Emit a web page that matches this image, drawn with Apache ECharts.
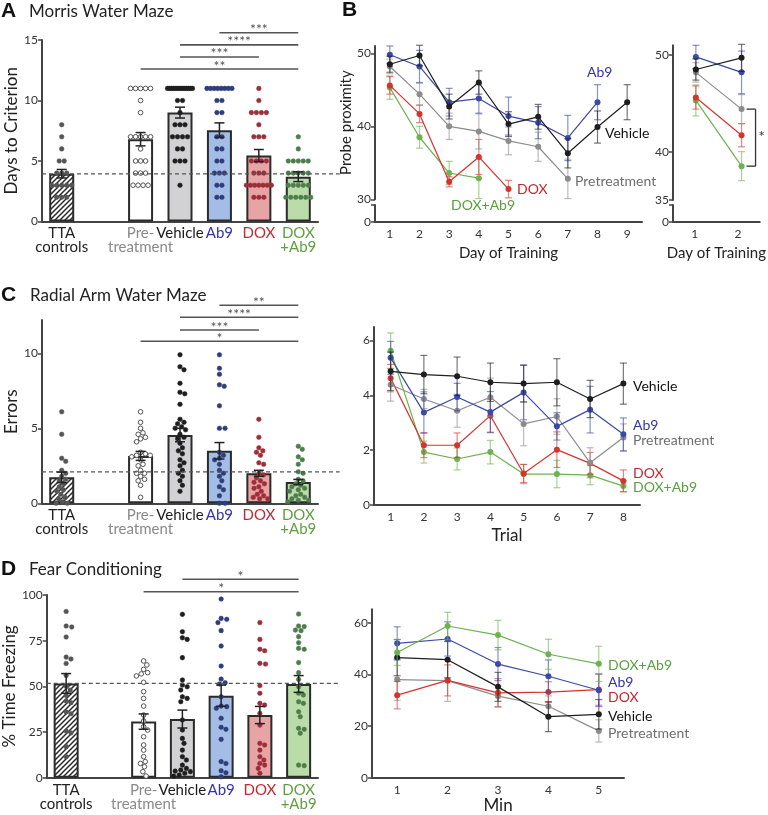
<!DOCTYPE html>
<html><head><meta charset="utf-8">
<script src="https://cdn.jsdelivr.net/npm/echarts@6/dist/echarts.min.js"></script>
<style>html,body{margin:0;padding:0;background:#fff}#c{width:768px;height:815px}</style>
</head><body><div id="c"></div>
<script>
// ---------------- DATA ----------------
const xCats = ['TTA\ncontrols', ' ', 'Pre-\ntreatment', 'Vehicle', 'Ab9', 'DOX', 'DOX\n+Ab9'];
const groupNames = ['TTA\ncontrols', 'Pre-\ntreatment', 'Vehicle', 'Ab9', 'DOX', 'DOX\n+Ab9'];

// A: Morris water maze, days to criterion
const mwmTTA = [8,7,6,5,5,4,4,4,3,3,3,3,3,2,2,2];
const mwmPre = [11,11,11,11,11,10,9,7,7,7,7,7,6,5,5,5,4,4,4,3,3,3,3];
const mwmVeh = [11,11,11,11,11,11,11,11,11,11,11,11,11,11,10,10,9,8,8,8,7,7,7,7,6,6,5,5,5,3];
const mwmAb9 = [11,11,11,11,11,11,11,11,10,10,9,9,7,7,6,6,5,5,4,4,4,3,3,2,2];
const mwmDox = [11,10,9,9,9,9,8,7,7,7,5,5,5,5,4,4,4,3,3,3,3,3,3,3,2,2,2];
const mwmDoxAb9 = [7,6,5,5,5,5,5,4,4,4,4,4,3,3,3,3,3,2,2,2,2,2,2];
const mwmMean = [3.95, 6.8, 9.0, 7.55, 5.45, 3.7];
const mwmSem = [0.35, 0.55, 0.45, 0.6, 0.5, 0.4];
const mwmRef = 3.93;
const mwmSigFrom = ['Ab9', 'Vehicle', 'Vehicle', 'Pre-\ntreatment'];
const mwmSigTo = ['DOX\n+Ab9', 'DOX\n+Ab9', 'DOX', 'DOX\n+Ab9'];
const mwmSigY = [15.6, 14.6, 13.6, 12.6];
const mwmSigStars = ['***', '****', '***', '**'];

// C: radial arm water maze, errors
const rawmTTA = [6.1,4.6,3.0,2.8,2.2,2.0,1.8,1.6,1.5,1.3,1.1,0.9,0.8,0.6,0.4,0.3,0.1,0,0];
const rawmPre = [6.1,5.4,5.0,4.7,4.6,4.4,4.3,4.1,3.4,3.3,3.2,3.2,3.1,2.9,2.6,2.5,2.2,2.0,2.0,1.8,1.6,1.5,1.2,0.4];
const rawmVeh = [9.9,9.1,8.9,8.0,7.4,7.3,6.6,5.6,5.4,5.3,5.1,5.0,4.9,4.6,4.4,4.3,4.0,3.7,3.5,3.3,2.9,2.7,2.5,2.2,2.0,1.8,1.5,1.2,0.8];
const rawmAb9 = [9.9,9.0,8.6,7.9,7.8,6.5,5.0,5.0,3.4,3.2,3.0,2.9,2.6,2.2,2.0,1.8,1.5,1.1,0.9,0.5,0,0];
const rawmDox = [5.6,4.4,3.7,3.5,3.4,3.2,2.7,2.6,2.0,1.9,1.7,1.5,1.4,1.3,1.1,1.0,0.8,0.6,0.5,0.4,0.3,0.3];
const rawmDoxAb9 = [3.8,3.6,3.1,2.9,2.6,2.1,2.0,1.6,1.5,1.3,1.2,1.1,1.0,0.9,0.8,0.6,0.5,0.4,0.3,0.2,0.2,0.1];
const rawmMean = [1.73, 3.16, 4.55, 3.5, 2.0, 1.42];
const rawmSem = [0.35, 0.3, 0.45, 0.55, 0.2, 0.17];
const rawmRef = 2.1;
const rawmSigFrom = ['Ab9', 'Vehicle', 'Vehicle', 'Pre-\ntreatment'];
const rawmSigTo = ['DOX\n+Ab9', 'DOX\n+Ab9', 'DOX', 'DOX\n+Ab9'];
const rawmSigY = [13.2, 12.4, 11.55, 10.8];
const rawmSigStars = ['**', '****', '***', '*'];

// D: fear conditioning, % time freezing
const fcTTA = [91,83,82.5,77,66,65,62.5,56,50,48,45,42,41,36,35,25.5,24.5,17,11.5];
const fcPre = [63.9,61.7,59.3,57.5,56.8,55.7,52.2,47.1,43.4,39.2,34.3,31,27.9,26.1,22.4,17.9,15.1,11.5,8.8,7.8,6,3.3,0.9];
const fcVeh = [89.4,79.9,76.6,75.7,65.7,53.5,50.7,49.8,48,44.3,43.4,41.6,31.6,26.1,21.5,18.8,15.1,11.5,9.7,6.9,5.1,4.2,3.6,3.3,2.4,1.5,0.9];
const fcAb9 = [97.8,87.2,86.7,84.9,80.5,72.1,61.1,54,52,51.3,44.3,39.2,38.9,38,32.5,27.6,26.5,21,8.8,7.8,3.8,2.7,0.5];
const fcDox = [84.9,75.7,70.3,69.5,62.6,62.2,50.4,46.2,40.7,39.8,35.2,28.8,18.8,17.9,15.1,11.5,9.7,7.8,6.9,5.1,2.4];
const fcDoxAb9 = [89.6,83,82.7,80.8,80.5,77.2,73.9,70.8,70.3,63,57.5,53.8,49.8,46.2,45.3,41.6,40.7,36.1,33.4,27,26.5,24.3,6.9,6.6];
const fcMean = [51.6, 30.7, 32.1, 44.9, 34.3, 51.3];
const fcSem = [5.4, 4.2, 4.9, 5.8, 4.7, 4.6];
const fcRef = 51.6;
const fcSigFrom = ['Vehicle', 'Pre-\ntreatment'];
const fcSigTo = ['DOX\n+Ab9', 'DOX\n+Ab9'];
const fcSigY = [108.6, 101.8];
const fcSigStars = ['*', '*'];

// B: probe proximity by day of training
const dayCats = ['1','2','3','4','5','6','7','8','9'];
const probeVeh = [48.5, 49.7, 42.7, 46.0, 40.3, 41.3, 36.3, 39.9, 43.3];
const probeVehErr = [1.1, 1.4, 1.7, 1.6, 1.7, 1.7, 2.0, 2.2, 2.4];
const probeAb9 = [49.8, 48.2, 43.3, 43.8, 41.4, 40.5, 38.4, 43.3];
const probeAb9Err = [1.2, 2.2, 1.9, 2.0, 2.6, 2.2, 3.1, 2.4];
const probePre = [48.2, 44.4, 40.0, 39.3, 38.0, 37.2, 32.8];
const probePreErr = [1.0, 1.5, 1.8, 2.4, 1.9, 2.0, 2.7];
const probeDox = [45.6, 41.7, 32.4, 35.8, 31.4];
const probeDoxErr = [1.2, 1.2, 0.7, 2.4, 1.2];
const probeDoxAb9 = [45.3, 38.5, 33.6, 32.9];
const probeDoxAb9Err = [1.6, 1.5, 1.6, 2.8];
const dayCats2 = ['1','2'];

// C right: errors by trial
const trialCats = ['1','2','3','4','5','6','7','8'];
const trialVeh = [4.88, 4.76, 4.7, 4.48, 4.43, 4.48, 3.87, 4.43];
const trialVehErr = [0.7, 0.7, 0.7, 0.7, 0.67, 0.86, 0.68, 0.75];
const trialAb9 = [5.37, 3.38, 3.94, 3.39, 4.11, 2.87, 3.48, 2.58];
const trialAb9Err = [0.6, 0.75, 0.5, 0.75, 1.0, 0.5, 0.85, 0.6];
const trialPre = [4.39, 3.87, 3.44, 3.93, 2.96, 3.23, 1.54, 2.46];
const trialPreErr = [0.6, 0.35, 0.6, 0.7, 0.8, 0.65, 0.55, 0.5];
const trialDox = [4.63, 2.18, 2.18, 3.26, 1.15, 2.02, 1.52, 0.88];
const trialDoxErr = [0.5, 0.45, 0.45, 0.6, 0.33, 0.65, 0.4, 0.4];
const trialDoxAb9 = [5.63, 1.93, 1.68, 1.93, 1.13, 1.13, 1.09, 0.69];
const trialDoxAb9Err = [0.65, 0.4, 0.4, 0.43, 0.35, 0.5, 0.35, 0.2];

// D right: freezing by minute
const minCats = ['1','2','3','4','5'];
const minDoxAb9 = [48.5, 58.7, 55.2, 47.8, 44.1];
const minDoxAb9Err = [5, 5.3, 5.7, 5.8, 6.8];
const minAb9 = [52, 53.7, 44, 39.3, 33.9];
const minAb9Err = [6.4, 6.6, 6.4, 6.3, 6.3];
const minVeh = [46.5, 45.7, 35.2, 23.7, 24.6];
const minVehErr = [7, 7, 5.6, 5.8, 5.7];
const minDox = [32, 37.7, 32.9, 33.2, 34.1];
const minDoxErr = [5.3, 6, 5.5, 4, 6];
const minPre = [38, 37.6, 31.6, 27.7, 18.2];
const minPreErr = [8, 8, 4, 4, 4.3];

// ---------------- STYLE ----------------
const FONT = 'Lato';
const cVeh = '#1e1e1e', cAb9 = '#3b4aa6', cPre = '#8c8c8c', cDox = '#d6332f', cDoxAb9 = '#6cb24e';
const tVeh = '#111', tAb9 = '#3333a8', tPre = '#6e6e6e', tDox = '#c4262e', tDoxAb9 = '#5aa040';
const labelColors = {'TTA\ncontrols':'#222', ' ':'#222', 'Pre-\ntreatment':'#8a8a8a', 'Vehicle':'#1a1a1a', 'Ab9':'#3434a6', 'DOX':'#c02a32', 'DOX\n+Ab9':'#5f9f3f'};

const pc = document.createElement('canvas'); pc.width = 5; pc.height = 5;
(function(){ const g = pc.getContext('2d'); g.fillStyle = '#fff'; g.fillRect(0,0,5,5);
  g.strokeStyle = '#2a2a2a'; g.lineWidth = 1.5; g.beginPath();
  g.moveTo(-1,6); g.lineTo(6,-1); g.moveTo(-1,1); g.lineTo(1,-1); g.moveTo(4,6); g.lineTo(6,4); g.stroke(); })();
const hatch = {image: pc, repeat: 'repeat'};
const barFills = [hatch, '#ffffff', '#d2d2d4', '#a3bde6', '#e8a3a5', '#badca8'];
const dotFill = ['#555555', '#ffffff', '#1e1e1e', '#2f3d7a', '#9c2e3a', '#4e7d4c'];
const dotStroke = ['#555555', '#555555', '#1e1e1e', '#2f3d7a', '#9c2e3a', '#4e7d4c'];

// ---------------- HELPERS ----------------
function rowLayout(ys) {
  const offs = new Array(ys.length).fill(0);
  const rows = {};
  ys.forEach((y, i) => { const k = Math.round(y * 2) / 2; (rows[k] = rows[k] || []).push(i); });
  Object.values(rows).forEach(idx => {
    const n = idx.length; const s = n > 1 ? Math.min(5, 25 / (n - 1)) : 0;
    idx.forEach((ii, j) => { offs[ii] = (j - (n - 1) / 2) * s; });
  });
  return offs;
}
function swarmLayout(ys) {
  const order = ys.map((y, i) => i).sort((a, b) => ys[a] - ys[b]);
  const placed = []; const offs = new Array(ys.length).fill(0); const md = 5.0;
  order.forEach(i => {
    let best = 0;
    for (let t = 0; t < 60; t++) {
      const x = t === 0 ? 0 : (t % 2 ? 1 : -1) * Math.ceil(t / 2) * 0.8;
      if (Math.abs(x) > 14) break;
      if (!placed.some(p => (p.x - x) ** 2 + (p.y - ys[i]) ** 2 < md * md)) { best = x; break; }
      best = x;
    }
    offs[i] = best; placed.push({x: best, y: ys[i]});
  });
  return offs;
}

function barPanel(ai, means, sems, dotSets, ref, sigFrom, sigTo, sigY, sigStars, mode) {
  const s = [];
  s.push({type: 'bar', xAxisIndex: ai, yAxisIndex: ai, barWidth: 25, z: 2, silent: true,
    data: groupNames.map((g, i) => ({value: [g, means[i]], itemStyle: {color: barFills[i]}})),
    itemStyle: {borderColor: '#2b2b2b', borderWidth: 2}});
  s.push({type: 'custom', xAxisIndex: ai, yAxisIndex: ai, clip: false, z: 4, silent: true,
    data: [[0, ref]],
    renderItem(p, api) {
      const bw = api.size([1, 0])[0];
      const a = api.coord([0, api.value(1)]), b = api.coord([6, api.value(1)]);
      return {type: 'line', shape: {x1: a[0] - bw / 2, y1: a[1], x2: b[0] + bw * 1.05, y2: b[1]},
        style: {stroke: '#555', lineWidth: 1.2, lineDash: [4, 3]}};
    }});
  s.push({type: 'custom', xAxisIndex: ai, yAxisIndex: ai, clip: false, z: 3, silent: true,
    data: groupNames.map((g, i) => [g, means[i]]),
    renderItem(p, api) {
      const gi = p.dataIndex; const vals = dotSets[gi];
      const cx = api.coord([api.value(0), 0])[0];
      const ys = vals.map(v => api.coord([api.value(0), v])[1]);
      const offs = mode === 'rows' ? rowLayout(ys) : swarmLayout(ys);
      return {type: 'group', children: ys.map((y, k) => ({type: 'circle',
        shape: {cx: cx + offs[k], cy: y, r: 2.3},
        style: {fill: dotFill[gi], stroke: dotStroke[gi], lineWidth: gi === 1 ? 1 : 0.5}}))};
    }});
  s.push({type: 'custom', xAxisIndex: ai, yAxisIndex: ai, clip: false, z: 5, silent: true,
    data: groupNames.map((g, i) => [g, means[i], sems[i]]),
    renderItem(p, api) {
      const x = api.value(0), m = api.value(1), e = api.value(2);
      const t = api.coord([x, m + e]), b = api.coord([x, m - e]); const hw = 5;
      const st = {stroke: '#222', lineWidth: 1.5};
      return {type: 'group', children: [
        {type: 'line', shape: {x1: t[0], y1: t[1], x2: b[0], y2: b[1]}, style: st},
        {type: 'line', shape: {x1: t[0] - hw, y1: t[1], x2: t[0] + hw, y2: t[1]}, style: st},
        {type: 'line', shape: {x1: b[0] - hw, y1: b[1], x2: b[0] + hw, y2: b[1]}, style: st}]};
    }});
  s.push({type: 'custom', xAxisIndex: ai, yAxisIndex: ai, clip: false, z: 5, silent: true,
    data: sigFrom.map((f, i) => [f, sigY[i]]),
    renderItem(p, api) {
      const i = p.dataIndex;
      const a = api.coord([api.value(0), api.value(1)]);
      const b = api.coord([xCats.indexOf(sigTo[i]), api.value(1)]);
      return {type: 'group', children: [
        {type: 'line', shape: {x1: a[0], y1: a[1], x2: b[0], y2: b[1]}, style: {stroke: '#555', lineWidth: 1.6}},
        {type: 'text', style: {text: sigStars[i], x: (a[0] + b[0]) / 2, y: a[1] + 4,
          textAlign: 'center', align: 'center', textVerticalAlign: 'bottom', verticalAlign: 'bottom',
          font: '14px ' + FONT, fill: '#555'}}]};
    }});
  return s;
}

function lineSeries(ai, vals, errs, color, z) {
  return [
    {type: 'custom', xAxisIndex: ai, yAxisIndex: ai, clip: false, z: z, silent: true,
      data: vals.map((v, i) => [i, v, errs[i]]),
      renderItem(p, api) {
        const x = api.value(0), v = api.value(1), e = api.value(2);
        const t = api.coord([x, v + e]), b = api.coord([x, v - e]); const hw = 3.5;
        const st = {stroke: color, lineWidth: 1.2, opacity: 0.6};
        return {type: 'group', children: [
          {type: 'line', shape: {x1: t[0], y1: t[1], x2: b[0], y2: b[1]}, style: st},
          {type: 'line', shape: {x1: t[0] - hw, y1: t[1], x2: t[0] + hw, y2: t[1]}, style: st},
          {type: 'line', shape: {x1: b[0] - hw, y1: b[1], x2: b[0] + hw, y2: b[1]}, style: st}]};
      }},
    {type: 'line', xAxisIndex: ai, yAxisIndex: ai, data: vals, z: z + 1, silent: true,
      symbol: 'circle', symbolSize: 6, itemStyle: {color: color},
      lineStyle: {color: color, width: 1.2}}
  ];
}

const axisLineStyle = {show: true, lineStyle: {color: '#444', width: 2}};
function barX(gi) {
  return {type: 'category', gridIndex: gi, data: xCats.map(c => ({value: c, textStyle: {color: labelColors[c]}})),
    axisLine: axisLineStyle, axisTick: {show: false},
    axisLabel: {interval: 0, fontSize: 15, lineHeight: 14, margin: 5, fontFamily: FONT}};
}
function valY(gi, min, max, ticks, name, nameGap) {
  return {type: 'value', gridIndex: gi, min: min, max: max, splitLine: {show: false},
    axisLine: {show: true, lineStyle: {color: '#444', width: 2}},
    axisTick: {show: true, length: 4, lineStyle: {color: '#444', width: 1.5}, customValues: ticks},
    axisLabel: {fontSize: 12, color: '#333', margin: 4, customValues: ticks, fontFamily: FONT},
    name: name || '', nameLocation: 'middle', nameGap: nameGap || 20,
    nameTextStyle: {fontSize: 17, color: '#222', fontFamily: FONT}};
}
function lineX(gi, cats, show, name, nameGap, nameSize) {
  return {type: 'category', gridIndex: gi, data: cats, boundaryGap: true, show: show,
    axisLine: axisLineStyle, axisTick: {show: false},
    axisLabel: {fontSize: 12, color: '#333', margin: 6, fontFamily: FONT},
    name: name || '', nameLocation: 'middle', nameGap: nameGap || 20,
    nameTextStyle: {fontSize: nameSize || 15, color: '#222', fontFamily: FONT}};
}

const grids = [
  {left: 42, top: 40, width: 276, height: 181.5},     // 0 A bars
  {left: 42, top: 320, width: 276, height: 183.3},    // 1 C bars
  {left: 42, top: 595, width: 276, height: 182.7},    // 2 D bars
  {left: 375, top: 46, width: 267, height: 153.3},    // 3 B main
  {left: 375, top: 205, width: 267, height: 16.7},    // 4 B zero
  {left: 673, top: 45.3, width: 91.4, height: 154.7}, // 5 B right main
  {left: 673, top: 205, width: 91.4, height: 16.7},   // 6 B right zero
  {left: 374, top: 326.9, width: 266, height: 178.1}, // 7 C lines
  {left: 372, top: 609.2, width: 252, height: 169.8}  // 8 D lines
];

const xAxes = [
  barX(0), barX(1), barX(2),
  lineX(3, dayCats, false), lineX(4, dayCats, true, 'Day of Training', 24, 15),
  lineX(5, dayCats2, false), lineX(6, dayCats2, true, 'Day of Training', 24, 15),
  lineX(7, trialCats, true, 'Trial', 22, 17), lineX(8, minCats, true, 'Min', 19, 17)
];
const yAxes = [
  valY(0, 0, 15, [0, 5, 10, 15], 'Days to Criterion', 22),
  valY(1, 0, 12.22, [0, 5, 10], 'Errors', 22),
  valY(2, 0, 100, [0, 25, 50, 75, 100], '% Time Freezing', 22),
  valY(3, 30, 51, [30, 40, 50], 'Probe proximity', 18),
  valY(4, 0, 1, [0, 1]),
  valY(5, 35, 51, [35, 40, 50]),
  valY(6, 0, 1, [0, 1]),
  valY(7, 0, 6.5, [0, 2, 4, 6]),
  valY(8, 0, 65.2, [0, 20, 40, 60])
];
yAxes[3].nameTextStyle.fontSize = 15;
yAxes[4].axisLabel.customValues = [0];
yAxes[6].axisLabel.customValues = [0];

let series = [];
series = series.concat(barPanel(0, mwmMean, mwmSem, [mwmTTA, mwmPre, mwmVeh, mwmAb9, mwmDox, mwmDoxAb9], mwmRef, mwmSigFrom, mwmSigTo, mwmSigY, mwmSigStars, 'rows'));
series = series.concat(barPanel(1, rawmMean, rawmSem, [rawmTTA, rawmPre, rawmVeh, rawmAb9, rawmDox, rawmDoxAb9], rawmRef, rawmSigFrom, rawmSigTo, rawmSigY, rawmSigStars, 'swarm'));
series = series.concat(barPanel(2, fcMean, fcSem, [fcTTA, fcPre, fcVeh, fcAb9, fcDox, fcDoxAb9], fcRef, fcSigFrom, fcSigTo, fcSigY, fcSigStars, 'swarm'));

// B left
series = series.concat(lineSeries(3, probeDoxAb9, probeDoxAb9Err, cDoxAb9, 4));
series = series.concat(lineSeries(3, probeDox, probeDoxErr, cDox, 6));
series = series.concat(lineSeries(3, probePre, probePreErr, cPre, 8));
series = series.concat(lineSeries(3, probeAb9, probeAb9Err, cAb9, 10));
series = series.concat(lineSeries(3, probeVeh, probeVehErr, cVeh, 12));
// B right (days 1-2)
series = series.concat(lineSeries(5, probeDoxAb9.slice(0, 2), probeDoxAb9Err.slice(0, 2), cDoxAb9, 4));
series = series.concat(lineSeries(5, probeDox.slice(0, 2), probeDoxErr.slice(0, 2), cDox, 6));
series = series.concat(lineSeries(5, probePre.slice(0, 2), probePreErr.slice(0, 2), cPre, 8));
series = series.concat(lineSeries(5, probeAb9.slice(0, 2), probeAb9Err.slice(0, 2), cAb9, 10));
series = series.concat(lineSeries(5, probeVeh.slice(0, 2), probeVehErr.slice(0, 2), cVeh, 12));
series.push({type: 'custom', xAxisIndex: 5, yAxisIndex: 5, clip: false, z: 20, silent: true,
  data: [[1, probePre[1], probeDoxAb9[1]]],
  renderItem(p, api) {
    const a = api.coord([1, api.value(1)]), b = api.coord([1, api.value(2)]);
    const x0 = a[0] + 5, x1 = a[0] + 14; const st = {stroke: '#333', lineWidth: 1.3};
    return {type: 'group', children: [
      {type: 'line', shape: {x1: x0, y1: a[1], x2: x1, y2: a[1]}, style: st},
      {type: 'line', shape: {x1: x1, y1: a[1], x2: x1, y2: b[1]}, style: st},
      {type: 'line', shape: {x1: x0, y1: b[1], x2: x1, y2: b[1]}, style: st},
      {type: 'text', style: {text: '*', x: x1 + 3, y: (a[1] + b[1]) / 2, font: '15px ' + FONT, fill: '#333',
        textVerticalAlign: 'middle', verticalAlign: 'middle'}}]};
  }});
// C lines
series = series.concat(lineSeries(7, trialDoxAb9, trialDoxAb9Err, cDoxAb9, 4));
series = series.concat(lineSeries(7, trialDox, trialDoxErr, cDox, 6));
series = series.concat(lineSeries(7, trialPre, trialPreErr, cPre, 8));
series = series.concat(lineSeries(7, trialAb9, trialAb9Err, cAb9, 10));
series = series.concat(lineSeries(7, trialVeh, trialVehErr, cVeh, 12));
// D lines
series = series.concat(lineSeries(8, minPre, minPreErr, cPre, 4));
series = series.concat(lineSeries(8, minDox, minDoxErr, cDox, 6));
series = series.concat(lineSeries(8, minVeh, minVehErr, cVeh, 8));
series = series.concat(lineSeries(8, minAb9, minAb9Err, cAb9, 10));
series = series.concat(lineSeries(8, minDoxAb9, minDoxAb9Err, cDoxAb9, 12));

function txt(t, x, y, font, fill) {
  return {type: 'text', silent: true, style: {text: t, x: x, y: y, font: font, fill: fill,
    textVerticalAlign: 'middle', verticalAlign: 'middle'}};
}
const L = '14px ' + FONT;
const graphics = [
  txt('A', 1, 11, 'bold 21px "Liberation Sans"', '#111'),
  txt('Morris Water Maze', 29, 12, '17px ' + FONT, '#222'),
  txt('B', 342, 10, 'bold 21px "Liberation Sans"', '#111'),
  txt('C', 1, 295, 'bold 21px "Liberation Sans"', '#111'),
  txt('Radial Arm Water Maze', 30, 296, '17px ' + FONT, '#222'),
  txt('D', 1, 569, 'bold 21px "Liberation Sans"', '#111'),
  txt('Fear Conditioning', 29, 570, '17px ' + FONT, '#222'),
  txt('Ab9', 587, 72, L, tAb9), txt('Vehicle', 605, 133, L, tVeh), txt('Pretreatment', 575, 181, L, tPre),
  txt('DOX', 517, 189, L, tDox), txt('DOX+Ab9', 451, 205, L, tDoxAb9),
  txt('Vehicle', 633, 386, L, tVeh), txt('Ab9', 633, 425, L, tAb9), txt('Pretreatment', 633, 440, L, tPre),
  txt('DOX', 633, 473, L, tDox), txt('DOX+Ab9', 633, 487, L, tDoxAb9),
  txt('DOX+Ab9', 608, 665, L, tDoxAb9), txt('Ab9', 608, 682, L, tAb9), txt('DOX', 608, 697, L, tDox),
  txt('Vehicle', 608, 716, L, tVeh), txt('Pretreatment', 608, 733, L, tPre)
];

const chart = echarts.init(document.getElementById('c'), null, {renderer: 'canvas'});
chart.setOption({
  animation: false,
  backgroundColor: '#fff',
  textStyle: {fontFamily: FONT},
  grid: grids,
  xAxis: xAxes,
  yAxis: yAxes,
  series: series,
  graphic: graphics
});
</script></body></html>
